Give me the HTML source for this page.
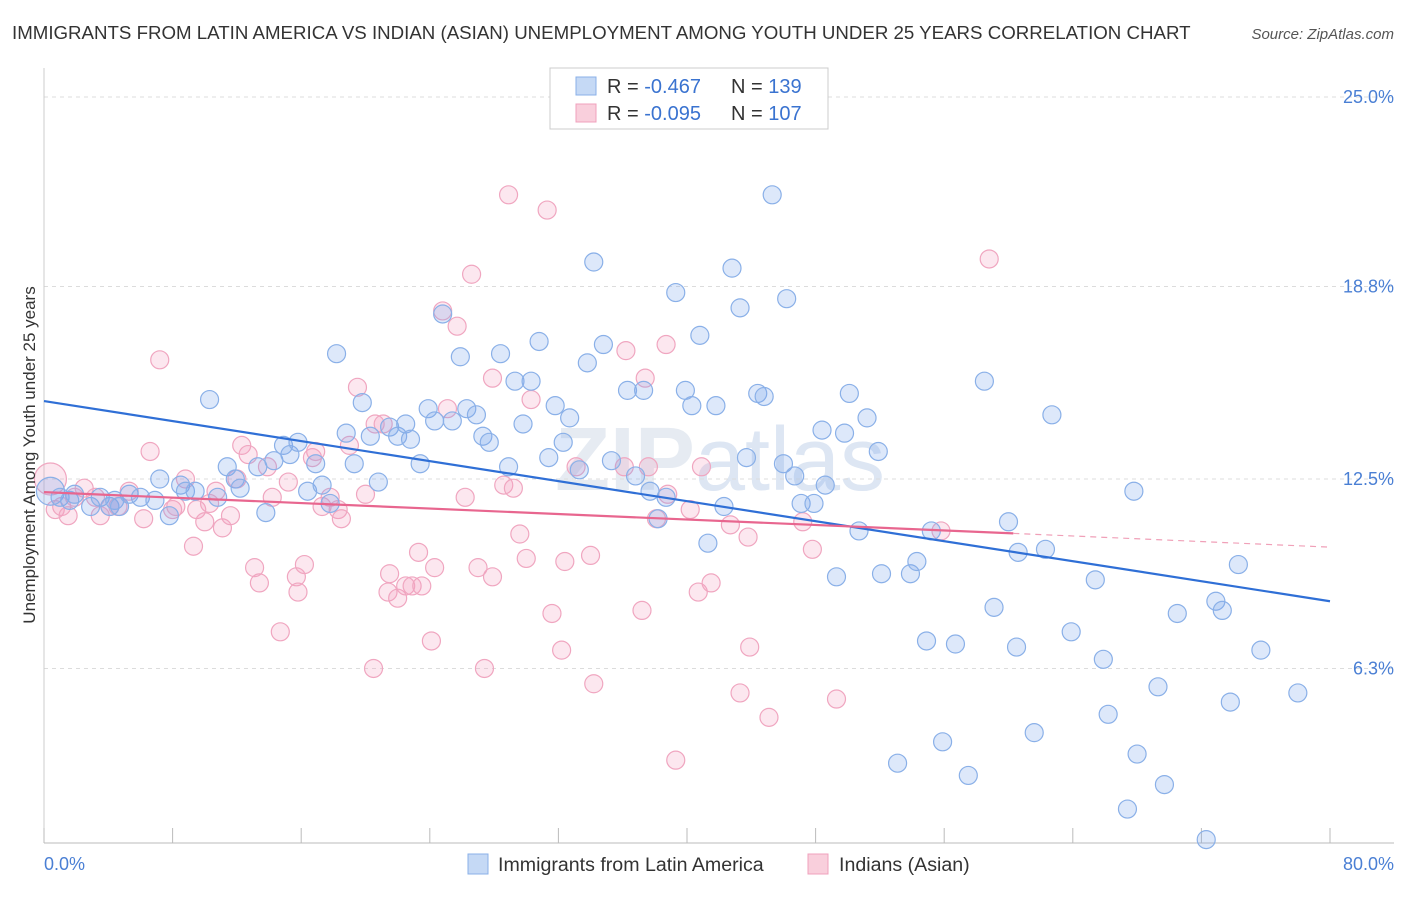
<!DOCTYPE html>
<html><head><meta charset="utf-8"><style>
body{margin:0;background:#fff;font-family:"Liberation Sans",sans-serif}
svg text{font-family:"Liberation Sans",sans-serif}
</style></head><body>
<svg id="chart" width="1406" height="892" xmlns="http://www.w3.org/2000/svg">
<text x="12" y="39" font-size="18.7" fill="#333">IMMIGRANTS FROM LATIN AMERICA VS INDIAN (ASIAN) UNEMPLOYMENT AMONG YOUTH UNDER 25 YEARS CORRELATION CHART</text>
<text x="1394" y="39" font-size="15" fill="#555" text-anchor="end" font-style="italic">Source: ZipAtlas.com</text>
<text x="720" y="490" font-size="90" fill="#e6ebf2" text-anchor="middle" font-weight="bold">ZIP<tspan font-weight="normal" fill="#dde6f3">atlas</tspan></text>
<g id="grid"></g>
<g id="axes"></g>
<g id="pinkPts"></g>
<g id="bluePts"></g>
<g id="lines"></g>
<text x="35" y="455" font-size="17" fill="#333" text-anchor="middle" transform="rotate(-90 35 455)">Unemployment Among Youth under 25 years</text>
<text x="44" y="870" font-size="18" fill="#4a7fd4">0.0%</text>
<text x="1394" y="870" font-size="18" fill="#4a7fd4" text-anchor="end">80.0%</text>
<g>
<rect x="550" y="68" width="278" height="61" fill="#fff" stroke="#ccc"/>
<rect x="576" y="77" width="20" height="18" fill="#c5d9f5" stroke="#8ab0e8"/>
<rect x="576" y="104" width="20" height="18" fill="#f9cfdc" stroke="#f0a0bc"/>
<text x="607" y="93" font-size="20" fill="#333">R = <tspan fill="#3a73d0">-0.467</tspan><tspan x="731">N = </tspan><tspan fill="#3a73d0">139</tspan></text>
<text x="607" y="120" font-size="20" fill="#333">R = <tspan fill="#3a73d0">-0.095</tspan><tspan x="731">N = </tspan><tspan fill="#3a73d0">107</tspan></text>
</g>
<g>
<rect x="468" y="854" width="20" height="20" fill="#c5d9f5" stroke="#8ab0e8"/>
<text x="498" y="871" font-size="19.6" fill="#333">Immigrants from Latin America</text>
<rect x="808" y="854" width="20" height="20" fill="#f9cfdc" stroke="#f0a0bc"/>
<text x="839" y="871" font-size="19.6" fill="#333">Indians (Asian)</text>
</g>
</svg>
<script>
const yTicks=[25.0,18.8,12.5,6.3];
const yTickLabels=["25.0%","18.8%","12.5%","6.3%"];
const xTicks=[0,8,16,24,32,40,48,56,64,72,80];
const blueX=[0.4,1.0,1.6,1.9,2.9,3.5,4.1,4.4,4.7,5.3,6.0,6.9,7.2,7.8,8.5,8.8,9.4,10.3,10.8,11.4,11.9,12.2,13.3,13.8,14.3,14.9,15.3,15.8,16.4,16.9,17.3,17.8,18.2,18.8,19.3,19.8,20.3,20.8,21.5,22.0,22.5,22.8,23.4,23.9,24.3,24.8,25.4,25.9,26.3,26.9,27.3,27.7,28.4,28.9,29.3,29.8,30.3,30.8,31.4,31.8,32.3,32.7,33.3,33.8,34.2,34.8,35.3,36.3,36.8,37.3,37.7,38.2,38.7,39.3,39.9,40.3,40.8,41.3,41.8,42.3,42.8,43.3,43.7,44.4,44.8,45.3,46.0,46.2,46.7,47.1,47.9,48.4,48.6,49.3,49.8,50.1,50.7,51.2,51.9,52.1,53.1,53.9,54.3,54.9,55.2,55.9,56.7,57.5,58.5,59.1,60.0,60.5,60.6,61.6,62.3,62.7,63.9,65.4,65.9,66.2,67.4,67.8,68.0,69.3,69.7,70.5,72.3,72.9,73.3,73.8,74.3,75.7,78.0];
const blueY=[12.1,11.9,11.8,12.0,11.6,11.9,11.6,11.8,11.6,12.0,11.9,11.8,12.5,11.3,12.3,12.1,12.1,15.1,11.9,12.9,12.5,12.2,12.9,11.4,13.1,13.6,13.3,13.7,12.1,13.0,12.3,11.7,16.6,14.0,13.0,15.0,13.9,12.4,14.2,13.9,14.3,13.8,13.0,14.8,14.4,17.9,14.4,16.5,14.8,14.6,13.9,13.7,16.6,12.9,15.7,14.3,15.7,17.0,13.2,14.9,13.7,14.5,12.8,16.3,19.6,16.9,13.1,15.4,12.6,15.4,12.1,11.2,11.9,18.6,15.4,14.9,17.2,10.4,14.9,11.6,19.4,18.1,13.2,15.3,15.2,21.8,13.0,18.4,12.6,11.7,11.7,14.1,12.3,9.3,14.0,15.3,10.8,14.5,13.4,9.4,3.2,9.4,9.8,7.2,10.8,3.9,7.1,2.8,15.7,8.3,11.1,7.0,10.1,4.2,10.2,14.6,7.5,9.2,6.6,4.8,1.7,12.1,3.5,5.7,2.5,8.1,0.7,8.5,8.2,5.2,9.7,6.9,5.5];
const pinkX=[0.4,0.7,1.1,1.5,1.9,2.5,3.2,3.5,4.1,4.6,5.3,6.2,6.6,7.2,8.0,8.2,8.8,9.3,9.5,10.0,10.3,10.7,11.1,11.6,12.0,12.3,12.7,13.1,13.4,13.9,14.2,14.7,15.2,15.7,15.8,16.2,16.7,16.9,17.3,17.8,18.3,18.5,19.0,19.5,20.0,20.5,20.6,21.1,21.4,21.5,22.0,22.5,22.9,23.3,23.5,24.1,24.3,24.8,25.1,25.7,26.2,26.6,27.0,27.4,27.9,27.9,28.6,28.9,29.2,29.6,30.0,30.3,31.3,31.6,32.2,32.4,33.1,34.0,34.2,36.1,36.2,37.2,37.4,37.6,38.1,38.7,38.8,39.3,40.2,40.7,40.9,41.5,42.7,43.3,43.8,43.9,45.1,47.2,47.8,49.3,55.8,58.8];
const pinkY=[12.5,11.5,11.6,11.3,11.9,12.2,11.9,11.3,11.6,11.6,12.1,11.2,13.4,16.4,11.5,11.6,12.5,10.3,11.5,11.1,11.7,12.1,10.9,11.3,12.5,13.6,13.3,9.6,9.1,12.9,11.9,7.5,12.4,9.3,8.8,9.7,13.2,13.4,11.6,11.9,11.5,11.2,13.6,15.5,12.0,6.3,14.3,14.3,8.8,9.4,8.6,9.0,9.0,10.1,9.0,7.2,9.6,18.0,14.8,17.5,11.9,19.2,9.6,6.3,15.8,9.3,12.3,21.8,12.2,10.7,9.9,15.1,21.3,8.1,6.9,9.8,12.9,10.0,5.8,12.9,16.7,8.2,15.8,12.9,11.2,16.9,12.0,3.3,11.5,8.8,12.9,9.1,11.0,5.5,10.6,7.0,4.7,11.1,10.2,5.3,10.8,19.7];
const blueTrend=[[0,15.05],[80,8.5]];
const pinkTrend=[[0,12.07],[60.3,10.72],[80,10.27]];

const NS="http://www.w3.org/2000/svg";
function xs(v){return 44+v*16.075;}
function ys(v){return 861-v*30.56;}
function mk(tag,attrs,parent){const e=document.createElementNS(NS,tag);for(const k in attrs)e.setAttribute(k,attrs[k]);document.getElementById(parent).appendChild(e);return e;}

yTicks.forEach((t,i)=>{
 const g=mk('line',{x1:44,x2:1394,y1:ys(t),y2:ys(t),stroke:'#dcdcdc','stroke-dasharray':'4,4'},'grid');
 
 
 const tx=mk('text',{x:1394,y:ys(t)+6,'font-size':18,fill:'#4a7fd4','text-anchor':'end'},'grid');
 tx.textContent=yTickLabels[i];
 
 
});
const ax=mk('line',{x1:44,x2:1394,y1:843,y2:843,stroke:'#bbb'},'axes');


const ay=mk('line',{x1:44,x2:44,y1:68,y2:843,stroke:'#ccc'},'axes');


xTicks.forEach(t=>{
 const l=mk('line',{x1:xs(t),x2:xs(t),y1:828,y2:843,stroke:'#bbb'},'axes');
 
 
});
pinkX.forEach((x,i)=>{
 const c=mk('circle',{cx:xs(x),cy:ys(pinkY[i]),r:i===0?16:9,fill:'rgba(244,160,190,0.25)',stroke:'#f0a6c0','stroke-width':1.2},'pinkPts');
 
 
});
blueX.forEach((x,i)=>{
 const c=mk('circle',{cx:xs(x),cy:ys(blueY[i]),r:i===0?14:9,fill:'rgba(120,165,235,0.25)',stroke:'#8ab0e8','stroke-width':1.2},'bluePts');
 
 
});
const bl=mk('line',{x1:xs(blueTrend[0][0]),y1:ys(blueTrend[0][1]),x2:xs(blueTrend[1][0]),y2:ys(blueTrend[1][1]),stroke:'#2f6fd6','stroke-width':2.2},'lines');


const pl=mk('line',{x1:xs(pinkTrend[0][0]),y1:ys(pinkTrend[0][1]),x2:xs(pinkTrend[1][0]),y2:ys(pinkTrend[1][1]),stroke:'#e8668f','stroke-width':2.2},'lines');


const pd=mk('line',{x1:xs(pinkTrend[1][0]),y1:ys(pinkTrend[1][1]),x2:xs(pinkTrend[2][0]),y2:ys(pinkTrend[2][1]),stroke:'#f0a0b8','stroke-width':1.2,'stroke-dasharray':'6,5'},'lines');


</script>
</body></html>
